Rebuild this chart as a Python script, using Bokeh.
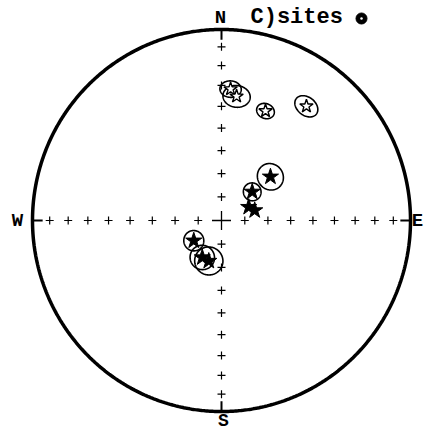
import numpy as np
from bokeh.plotting import figure
from bokeh.models import Range1d
from bokeh.core.properties import value
from bokeh.embed import file_html
from bokeh.resources import INLINE

# ---- data (declination, inclination, alpha95 in degrees) ----
dec_open = [4.0, 7.0, 22.1, 36.9]          # upper hemisphere (open stars)
inc_open = [-31.6, -34.8, -38.1, -26.1]
a95_open = [4.0, 5.2, 3.5, 4.6]

dec_filled = [48.5, 47.3, 64.0, 73.3, 234.2, 207.7, 197.6]   # lower hemisphere (filled stars)
inc_filled = [61.7, 72.0, 77.0, 75.1, 75.3, 72.2, 71.9]
a95_filled = [5.6, 3.8, 1.0, 1.0, 4.3, 5.2, 6.0]

tick_incs = [10, 20, 30, 40, 50, 60, 70, 80]
cardinal_decs = [0, 90, 180, 270]
title_text = "C)sites"

W = H = 432
CX, CY, RX, RY = 221, 220, 189, 191   # net centre / radius in picture pixels


def proj(dec, inc):
    dec = np.radians(np.asarray(dec, dtype=float))
    inc = np.radians(np.abs(np.asarray(inc, dtype=float)))
    r = np.sqrt(2.0) * np.sin((np.pi / 2 - inc) / 2.0)
    return r * np.sin(dec), r * np.cos(dec)


def small_circle(dec, inc, a95, n=120):
    d, i, a = np.radians(dec), np.radians(inc), np.radians(a95)
    c = np.array([np.cos(i) * np.cos(d), np.cos(i) * np.sin(d), np.sin(i)])
    ref = np.array([0.0, 0.0, 1.0]) if abs(c[2]) < 0.9 else np.array([1.0, 0.0, 0.0])
    u = np.cross(c, ref); u /= np.linalg.norm(u)
    v = np.cross(c, u)
    t = np.linspace(0, 2 * np.pi, n)
    pts = np.cos(a) * c[:, None] + np.sin(a) * (np.outer(u, np.cos(t)) + np.outer(v, np.sin(t)))
    pinc = np.degrees(np.arcsin(np.clip(pts[2], -1, 1)))
    pdec = np.degrees(np.arctan2(pts[1], pts[0]))
    return proj(pdec, pinc)


def X(px):
    return (px - CX) / RX


def Y(py):
    return (CY - py) / RY


p = figure(width=W, height=H, output_backend="svg", toolbar_location=None,
           x_range=Range1d(X(0), X(W)), y_range=Range1d(Y(H), Y(0)),
           x_axis_type=None, y_axis_type=None, min_border=0,
           outline_line_color=None)

# primitive circle
pd = np.linspace(0, 360, 721)
px_, py_ = proj(pd, np.zeros_like(pd))
p.line(px_, py_, line_color="black", line_width=3.5)

# cardinal ticks
for d in cardinal_decs:
    x0, y0 = proj([d], [0])
    x1, y1 = proj([d], [6])
    p.line([x0[0], x1[0]], [y0[0], y1[0]], line_color="black", line_width=2)

# crosses along axes
cx, cy = [], []
for d in cardinal_decs:
    xs, ys = proj([d] * len(tick_incs), tick_incs)
    cx += list(xs); cy += list(ys)
p.scatter(cx, cy, marker="cross", size=8, line_color="black", line_width=1.2)
p.scatter([0], [0], marker="cross", size=19, line_color="black", line_width=1.3)

# confidence circles
for d, i, a in zip(dec_open + dec_filled, inc_open + inc_filled, a95_open + a95_filled):
    xs, ys = small_circle(d, i, a)
    p.line(xs, ys, line_color="black", line_width=1.6)

# stars
ox, oy = proj(dec_open, inc_open)
p.scatter(ox, oy, marker="star", size=14, fill_color="white", line_color="black", line_width=1.4)
fx, fy = proj(dec_filled, inc_filled)
p.scatter(fx, fy, marker="star", size=17, fill_color="black", line_color="black", line_width=1)

# labels
font = value("Liberation Mono")
kw = dict(text_font=font, text_color="black", text_font_style="bold")
p.text(x=[X(220)], y=[Y(17)], text=["N"], text_font_size="19px",
       text_align="center", text_baseline="middle", **kw)
p.text(x=[X(17)], y=[Y(220)], text=["W"], text_font_size="19px",
       text_align="center", text_baseline="middle", **kw)
p.text(x=[X(417)], y=[Y(220)], text=["E"], text_font_size="19px",
       text_align="center", text_baseline="middle", **kw)
p.text(x=[X(223)], y=[Y(420)], text=["S"], text_font_size="18px",
       text_align="center", text_baseline="middle", **kw)
p.text(x=[X(250)], y=[Y(17)], text=[title_text], text_font_size="22px",
       text_align="left", text_baseline="middle", **kw)

# legend symbol
p.scatter([X(361)], [Y(18)], marker="circle", size=11, fill_color="black", line_color="black")
p.scatter([X(361)], [Y(18)], marker="circle", size=2.5, fill_color="white", line_color=None)

open("out.html", "w").write(file_html(p, INLINE))
